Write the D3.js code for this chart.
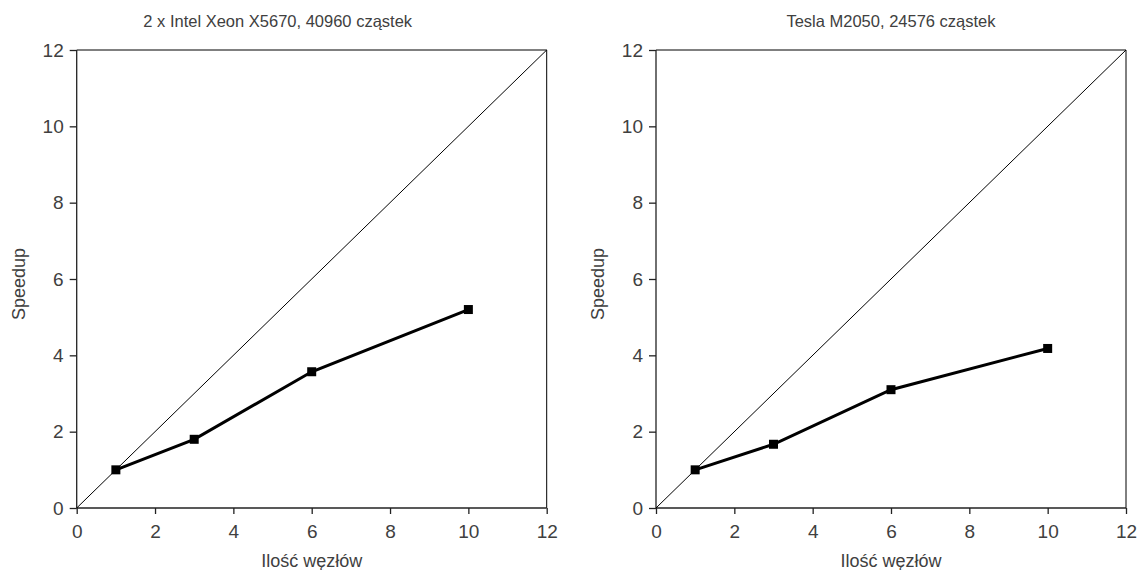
<!DOCTYPE html>
<html>
<head>
<meta charset="utf-8">
<script src="https://cdn.jsdelivr.net/npm/d3@7"></script>
<style>
  body { margin: 0; background: #fff; }
  svg text { font-family: "Liberation Sans", Arial, sans-serif; fill: #404040; }
</style>
</head>
<body>
<svg width="1142" height="570"></svg>
<script>
var nodes = [1, 3, 6, 10];
var cpuSpeedup = [1, 1.8, 3.57, 5.2];
var gpuSpeedup = [1, 1.67, 3.1, 4.18];
var titles = ["2 x Intel Xeon X5670, 40960 cząstek", "Tesla M2050, 24576 cząstek"];
var ticks = [0, 2, 4, 6, 8, 10, 12];
var xLabel = "Ilość węzłów", yLabel = "Speedup";

var svg = d3.select("svg");
// titleShift: the left title sits a bit left of its plot centre in the original
var panels = [
    {left: 76.7, values: cpuSpeedup, title: titles[0], titleShift: -34},
    {left: 656, values: gpuSpeedup, title: titles[1], titleShift: 0}
];
var plotTop = 50, plotBottom = 508, plotW = 470;

panels.forEach(function (p) {
    var x = d3.scaleLinear().domain([0, 12]).range([p.left, p.left + plotW]);
    var y = d3.scaleLinear().domain([0, 12]).range([plotBottom, plotTop]);
    var g = svg.append("g");

    // frame: top and right
    g.append("path")
        .attr("d", "M" + x(0) + "," + y(12) + "H" + x(12) + "V" + y(0))
        .attr("fill", "none").attr("stroke", "#000").attr("stroke-width", 1);

    var xa = g.append("g").attr("transform", "translate(0," + plotBottom + ")")
        .call(d3.axisBottom(x).tickValues(ticks).tickSize(6).tickPadding(11));
    var ya = g.append("g").attr("transform", "translate(" + p.left + ",0)")
        .call(d3.axisLeft(y).tickValues(ticks).tickSize(7).tickPadding(6));
    xa.select(".domain").attr("d", "M" + x(0) + ",0H" + x(12));
    ya.select(".domain").attr("d", "M0," + y(0) + "V" + y(12));
    [xa, ya].forEach(function (a) {
        a.selectAll("path, line").attr("stroke", "#222").attr("stroke-width", 1.3);
        a.selectAll("text").style("font-size", "19px").attr("fill", "#404040");
    });

    // ideal speedup diagonal
    g.append("line")
        .attr("x1", x(0)).attr("y1", y(0)).attr("x2", x(12)).attr("y2", y(12))
        .attr("stroke", "#000").attr("stroke-width", 1);

    var pts = nodes.map(function (n, i) { return [n, p.values[i]]; });
    g.append("path")
        .datum(pts)
        .attr("d", d3.line().x(function (d) { return x(d[0]); }).y(function (d) { return y(d[1]); }))
        .attr("fill", "none").attr("stroke", "#000").attr("stroke-width", 3);
    g.selectAll("rect.pt").data(pts).enter().append("rect")
        .attr("x", function (d) { return x(d[0]) - 4.5; })
        .attr("y", function (d) { return y(d[1]) - 4.5; })
        .attr("width", 9).attr("height", 9).attr("fill", "#000");

    g.append("text")
        .attr("x", (x(0) + x(12)) / 2 + p.titleShift).attr("y", 27)
        .attr("text-anchor", "middle").style("font-size", "16.5px")
        .text(p.title);
    g.append("text")
        .attr("x", (x(0) + x(12)) / 2).attr("y", 567)
        .attr("text-anchor", "middle").style("font-size", "18px")
        .text(xLabel);
    g.append("text")
        .attr("transform", "translate(" + (p.left - 52) + "," + ((plotTop + plotBottom) / 2 + 5) + ") rotate(-90)")
        .attr("text-anchor", "middle").style("font-size", "18px")
        .text(yLabel);
});
</script>
</body>
</html>
